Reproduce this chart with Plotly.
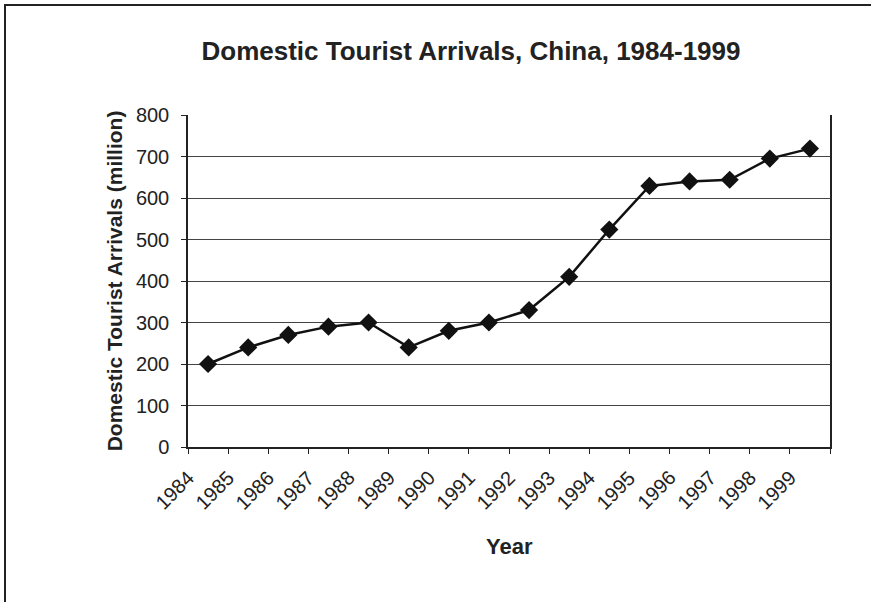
import plotly.graph_objects as go

years = ["1984", "1985", "1986", "1987", "1988", "1989", "1990", "1991",
         "1992", "1993", "1994", "1995", "1996", "1997", "1998", "1999"]
arrivals = [200, 240, 270, 290, 300, 240, 280, 300,
            330, 410, 524, 629, 640, 644, 695, 719]
y_ticks = [0, 100, 200, 300, 400, 500, 600, 700, 800]

W, H = 871, 602
L, R, T, B = 188, 41, 115, 155
pw, ph = W - L - R, H - T - B

def px_x(p):
    return (p - L) / pw

def px_y(p):
    return (H - B - p) / ph

font = "Liberation Sans, Arial, sans-serif"

fig = go.Figure()
fig.add_trace(go.Scatter(
    x=years, y=arrivals, mode="lines+markers",
    line=dict(color="#111111", width=2.5),
    marker=dict(symbol="diamond", size=14, color="#111111"),
    showlegend=False,
))

fig.update_layout(
    width=W, height=H,
    margin=dict(l=L, r=R, t=T, b=B, autoexpand=False),
    paper_bgcolor="white", plot_bgcolor="white",
    font=dict(family=font, color="#222222"),
    title=dict(text="<b>Domestic Tourist Arrivals, China, 1984-1999</b>",
               x=471 / W, xanchor="center", y=1 - 51 / H, yanchor="middle",
               font=dict(size=26, family=font, color="#222222")),
)

fig.update_xaxes(
    type="category", tickson="boundaries", ticks="outside", ticklen=5,
    tickcolor="#222222", showticklabels=False,
    showline=True, linecolor="#222222", linewidth=1.5, mirror=False,
    showgrid=False, range=[-0.5, 15.5],
)
fig.update_yaxes(
    range=[0, 800], tickvals=y_ticks, ticks="outside", ticklen=5,
    tickcolor="#222222", tickfont=dict(size=20), ticklabelstandoff=8,
    showline=True, linecolor="#222222", linewidth=1.5, mirror=True,
    showgrid=True, gridcolor="#444444", gridwidth=1, zeroline=False,
    title=dict(text="<b>Domestic Tourist Arrivals (million)</b>",
               font=dict(size=21), standoff=8),
)

# rotated category labels (positioned by category index on the x axis)
for i, yr in enumerate(years):
    fig.add_annotation(x=i, y=0, xref="x", yref="paper", text=yr,
                       textangle=-45, showarrow=False,
                       xanchor="right", yanchor="top",
                       xshift=-7, yshift=-16,
                       font=dict(size=20, color="#222222"))

# x-axis title
fig.add_annotation(x=0.5, y=px_y(546), xref="paper", yref="paper",
                   text="<b>Year</b>", showarrow=False,
                   xanchor="center", yanchor="middle",
                   font=dict(size=22, color="#222222"))

# outer chart frame
fig.add_shape(type="rect", xref="paper", yref="paper",
              x0=px_x(5), y0=px_y(700), x1=px_x(1000), y1=px_y(5),
              line=dict(color="#222222", width=2), layer="below")

fig.write_html("out.html")
